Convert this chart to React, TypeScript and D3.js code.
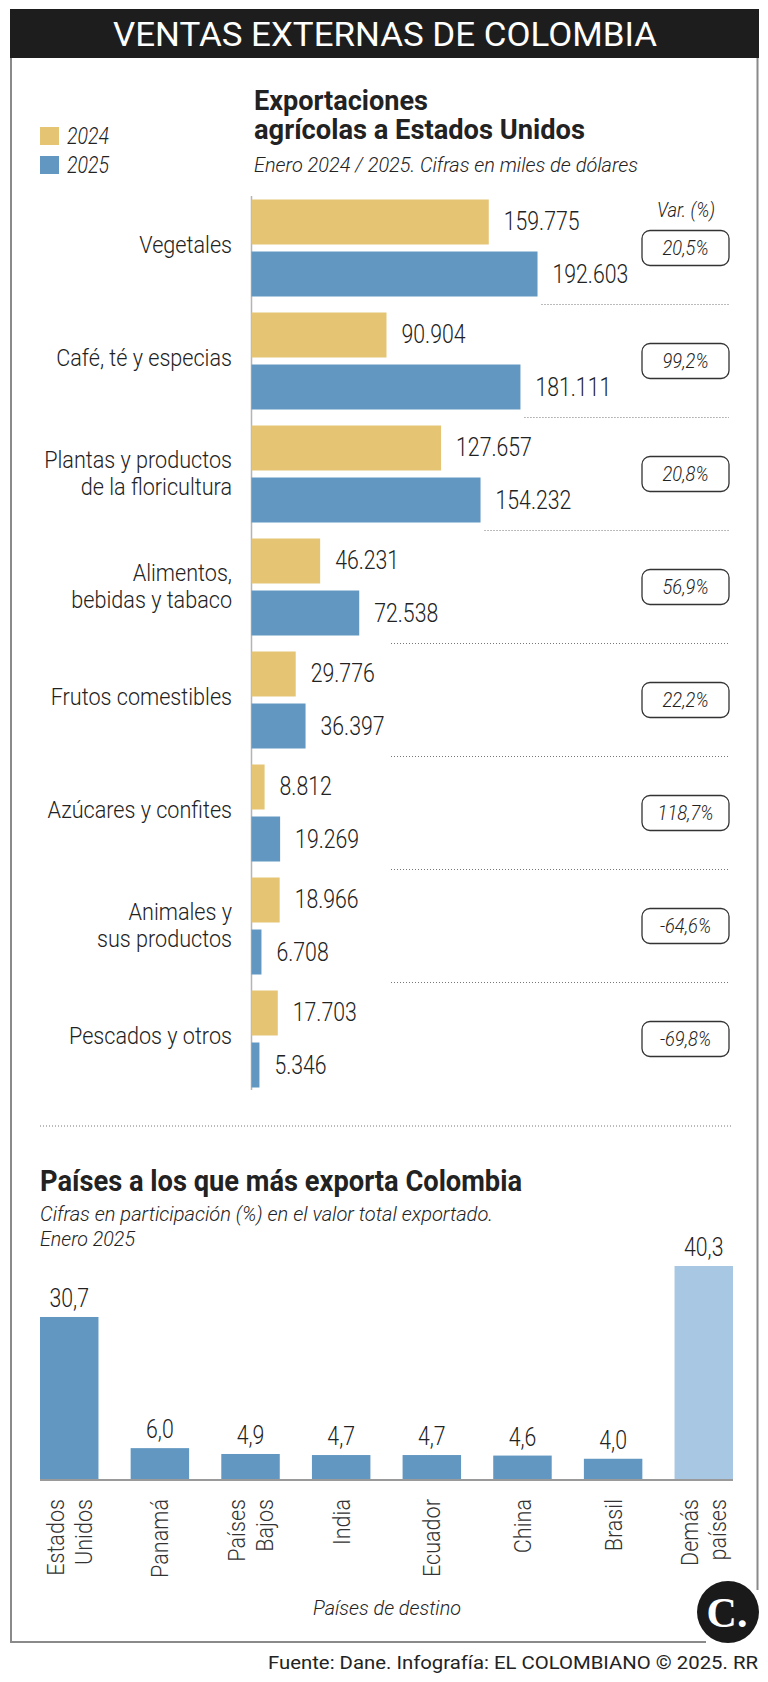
import React from "react";
import * as d3 from "d3";

// ---------- Data ----------
const categoryLabels: string[][] = [
  ["Vegetales"],
  ["Café, té y especias"],
  ["Plantas y productos", "de la floricultura"],
  ["Alimentos,", "bebidas y tabaco"],
  ["Frutos comestibles"],
  ["Azúcares y confites"],
  ["Animales y", "sus productos"],
  ["Pescados y otros"],
];
const exports2024 = [159775, 90904, 127657, 46231, 29776, 8812, 18966, 17703];
const exports2025 = [192603, 181111, 154232, 72538, 36397, 19269, 6708, 5346];
const variation = [20.5, 99.2, 20.8, 56.9, 22.2, 118.7, -64.6, -69.8];
const years = ["2024", "2025"];

const countryLabels: string[][] = [
  ["Estados", "Unidos"],
  ["Panamá"],
  ["Países", "Bajos"],
  ["India"],
  ["Ecuador"],
  ["China"],
  ["Brasil"],
  ["Demás", "países"],
];
const countryShare = [30.7, 6.0, 4.9, 4.7, 4.7, 4.6, 4.0, 40.3];

// ---------- Style ----------
const YELLOW = "#E5C574";
const BLUE = "#6197C1";
const LIGHTBLUE = "#A8C7E3";
const INK = "#222";
const FONT = "Roboto";

const W = 768;
const H = 1682;

const fmtThousands = (v: number) => d3.format(",")(v).replace(/,/g, ".");
const fmtComma1 = (v: number) => d3.format(".1f")(v).replace(".", ",").replace("\u2212", "-");

type TProps = {
  x: number;
  y: number;
  sx?: number;
  anchor?: "start" | "middle" | "end";
  size: number;
  weight?: number;
  italic?: boolean;
  fill?: string;
  family?: string;
  len?: number;
  children: React.ReactNode;
};
const T = ({ x, y, sx = 1, anchor = "start", size, weight = 400, italic = false, fill = INK, family = FONT, len, children }: TProps) => (
  <text
    transform={`translate(${x},${y}) scale(${sx},1)`}
    textAnchor={anchor}
    fontSize={size}
    fontWeight={weight}
    fontStyle={italic ? "italic" : "normal"}
    fill={fill}
    fontFamily={family}
    {...(len ? { textLength: len, lengthAdjust: "spacingAndGlyphs" } : {})}
  >
    {children}
  </text>
);

export default function App() {
  // Chart 1 scales
  const x0 = 251.5;
  const x = d3.scaleLinear().domain([0, 200000]).range([x0, x0 + 297]);
  const idx = categoryLabels.map((_, i) => String(i));
  const y = d3.scaleBand().domain(idx).range([199.5, 1087.5]).paddingInner(16 / 113).paddingOuter(0);
  const yInner = d3.scaleBand().domain(years).range([0, y.bandwidth()]).paddingInner(0.135);

  // Chart 2 scales
  const cIdx = countryLabels.map((_, i) => String(i));
  const bx = d3.scaleBand().domain(cIdx).range([40, 733]).paddingInner(0.355).paddingOuter(0);
  const by = d3.scaleLinear().domain([0, 45]).range([1480, 1480 - 45 * 5.31]);

  const boxL = 642;
  const boxR = 729;

  return (
    <svg width={W} height={H} style={{ position: "absolute", left: 0, top: 0, background: "#fff" }}>
      <rect x={0} y={0} width={W} height={H} fill="#fff" />
      {/* frame */}
      <line x1={11} y1={58} x2={11} y2={1642} stroke="#8a8a8a" strokeWidth={2} />
      <line x1={10} y1={1642} x2={706} y2={1642} stroke="#8a8a8a" strokeWidth={2} />
      <line x1={757.5} y1={58} x2={757.5} y2={1590} stroke="#8a8a8a" strokeWidth={2} />
      {/* header */}
      <rect x={10} y={9} width={749} height={49} fill="#1d1d1d" />
      <T x={385} y={46} size={33} anchor="middle" fill="#fff" len={544}>
        VENTAS EXTERNAS DE COLOMBIA
      </T>

      {/* legend */}
      {years.map((yr, i) => (
        <g key={yr}>
          <rect x={40} y={127 + i * 29} width={19} height={18} fill={i === 0 ? YELLOW : BLUE} />
          <T x={67} y={144 + i * 29} size={24} italic weight={300} len={42}>
            {yr}
          </T>
        </g>
      ))}

      {/* title chart 1 */}
      <T x={254} y={110} size={27} weight={700} len={174}>
        Exportaciones
      </T>
      <T x={254} y={139} size={27} weight={700} len={331}>
        agrícolas a Estados Unidos
      </T>
      <T x={254} y={172} size={21} italic weight={300} len={384}>
        Enero 2024 / 2025. Cifras en miles de dólares
      </T>

      <T x={686} y={217} size={21} italic weight={300} anchor="middle" sx={0.87}>
        Var. (%)
      </T>

      {/* axis */}
      <line x1={x0} y1={196} x2={x0} y2={1090} stroke="#b5b5b5" strokeWidth={1.5} />

      {categoryLabels.map((lines, i) => {
        const g = y(String(i))!;
        const c = g + y.bandwidth() / 2;
        const vals = [exports2024[i], exports2025[i]];
        const sepY = g + y.bandwidth() + (y.step() - y.bandwidth()) / 2;
        return (
          <g key={i}>
            {vals.map((v, k) => {
              const yy = g + yInner(years[k])!;
              return (
                <g key={k}>
                  <rect x={x0} y={yy} width={x(v) - x0} height={yInner.bandwidth()} fill={k === 0 ? YELLOW : BLUE} />
                  <T x={x(v) + 15} y={yy + yInner.bandwidth() / 2 + 8.5} size={25} weight={300} sx={0.85}>
                    {fmtThousands(v)}
                  </T>
                </g>
              );
            })}
            {lines.length === 1 ? (
              <T x={232} y={c + 5} size={24} weight={300} sx={0.9} anchor="end">
                {lines[0]}
              </T>
            ) : (
              lines.map((ln, j) => (
                <T key={j} x={232} y={c - 6 + j * 27} size={24} weight={300} sx={0.9} anchor="end">
                  {ln}
                </T>
              ))
            )}
            <rect x={boxL} y={c - 17.5} width={boxR - boxL} height={35} rx={8} ry={8} fill="none" stroke="#333" strokeWidth={1.3} />
            <T x={(boxL + boxR) / 2} y={c + 7} size={21} italic weight={300} sx={0.87} anchor="middle">
              {fmtComma1(variation[i]) + "%"}
            </T>
            {i < categoryLabels.length - 1 && (
              <line
                x1={Math.max(x(exports2025[i]) + 4, 391)}
                x2={boxR}
                y1={sepY}
                y2={sepY}
                stroke="#777"
                strokeWidth={1}
                strokeDasharray="1 2"
              />
            )}
          </g>
        );
      })}

      <line x1={40} x2={733} y1={1126} y2={1126} stroke="#777" strokeWidth={1} strokeDasharray="1 2" />

      {/* chart 2 */}
      <T x={40} y={1191} size={30} weight={700} len={482}>
        Países a los que más exporta Colombia
      </T>
      <T x={40} y={1221} size={20} italic weight={300} len={453}>
        Cifras en participación (%) en el valor total exportado.
      </T>
      <T x={40} y={1246} size={20} italic weight={300} len={95}>
        Enero 2025
      </T>

      {countryShare.map((v, i) => {
        const bx0 = bx(String(i))!;
        const cx = bx0 + bx.bandwidth() / 2;
        const lines = countryLabels[i];
        return (
          <g key={i}>
            <rect
              x={bx0}
              y={by(v)}
              width={bx.bandwidth()}
              height={by(0) - by(v)}
              fill={i === countryShare.length - 1 ? LIGHTBLUE : BLUE}
            />
            <T x={cx} y={by(v) - 10} size={25} weight={300} anchor="middle" sx={0.85}>
              {fmtComma1(v)}
            </T>
            {lines.map((ln, j) => {
              const off = lines.length === 1 ? 0 : (j - 0.5) * 28;
              return (
                <text
                  key={j}
                  transform={`translate(${cx + off + 8.5},1499) rotate(-90) scale(0.9,1)`}
                  textAnchor="end"
                  fontSize={24}
                  fontWeight={300}
                  fontFamily={FONT}
                  fill="#333"
                >
                  {ln}
                </text>
              );
            })}
          </g>
        );
      })}
      <line x1={40} x2={733} y1={1480} y2={1480} stroke="#9a9a9a" strokeWidth={2} />

      <T x={387} y={1615} size={21} italic weight={300} anchor="middle" len={148}>
        Países de destino
      </T>

      {/* logo */}
      <circle cx={728} cy={1612} r={31} fill="#1a1a1a" />
      <text x={727} y={1627} textAnchor="middle" fontSize={42} fontWeight={700} fontFamily="Liberation Serif" fill="#fff">
        C.
      </text>

      <T x={758} y={1669} size={19} anchor="end" len={490}>
        Fuente: Dane. Infografía: EL COLOMBIANO © 2025. RR
      </T>
    </svg>
  );
}
